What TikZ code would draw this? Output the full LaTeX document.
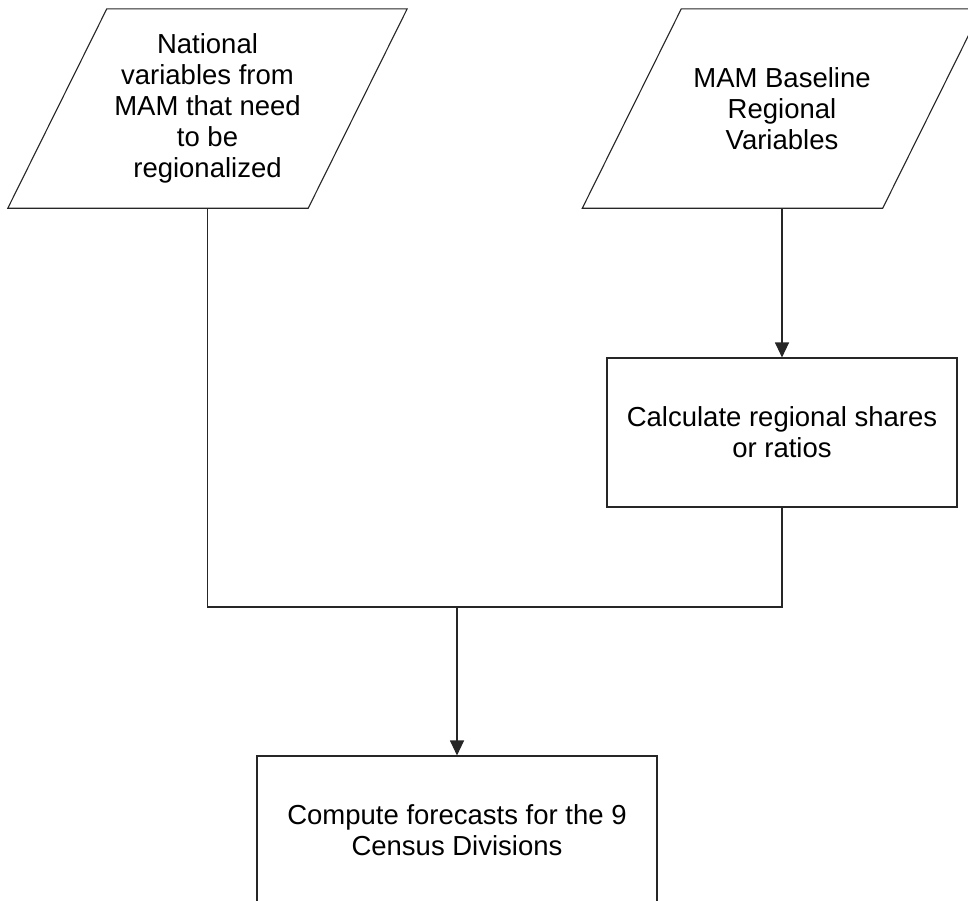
\documentclass[tikz,border=0pt]{standalone}
\usepackage{fontspec}
\setmainfont{Liberation Sans}
\usetikzlibrary{arrows.meta}
\begin{document}
\begin{tikzpicture}[x=1pt,y=-1pt,
  outline/.style={draw=black!85, line width=1.1pt},
  label/.style={font=\fontsize{27.5}{31}\selectfont, align=center, inner sep=0pt},
  iobox/.style={label, minimum width=300pt, minimum height=199pt},
  procbox/.style={label, outline, minimum height=149pt},
  conn/.style={draw=black!85, line width=1.1pt},
  flow/.style={conn, -{Triangle[length=15pt,width=14pt]}}]
\useasboundingbox (0,0) rectangle (968,900);
\clip (0,0) rectangle (968,900);

% input data (parallelograms): text node plus slanted outline
\node[iobox] (nat) at (207.5,108.5) {National\\variables from\\MAM that need\\to be\\regionalized};
\draw[outline] ([xshift=49.5pt]nat.north west) -- ([xshift=49.5pt]nat.north east)
  -- ([xshift=-49.5pt]nat.south east) -- ([xshift=-49.5pt]nat.south west) -- cycle;

\node[iobox] (base) at (782,108.5) {MAM Baseline\\Regional\\Variables};
\draw[outline] ([xshift=49.5pt]base.north west) -- ([xshift=49.5pt]base.north east)
  -- ([xshift=-49.5pt]base.south east) -- ([xshift=-49.5pt]base.south west) -- cycle;

% processing steps
\node[procbox, minimum width=350pt] (calc) at (782,432.5) {Calculate regional shares\\or ratios};
\node[procbox, minimum width=400pt] (comp) at (457,830.5) {Compute forecasts for the 9\\Census Divisions};

% connectors
\coordinate (join) at (457,607);
\draw[flow] (base.south) -- (calc.north);
\draw[conn] (nat.south) |- (join);
\draw[conn] (calc.south) |- (join);
\draw[flow] (join) -- (comp.north);
\end{tikzpicture}
\end{document}
